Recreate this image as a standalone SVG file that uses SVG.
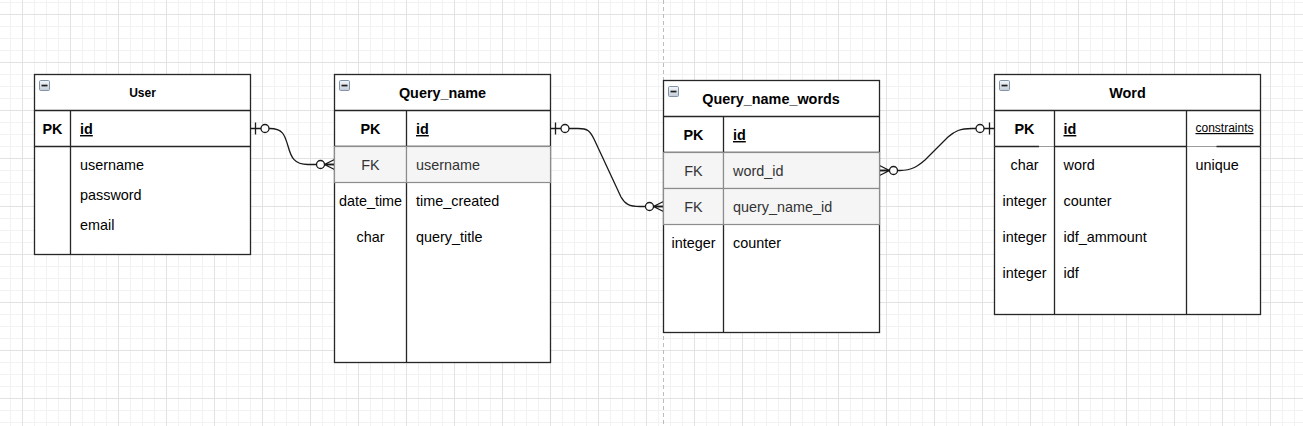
<svg xmlns="http://www.w3.org/2000/svg" width="1303" height="426" viewBox="0 0 1303 426">
<style>
text{font-family:"Liberation Sans",Arial,sans-serif;fill:#000}
.t{font-size:14.4px;font-weight:bold;text-anchor:middle}
.f{font-size:14.4px}
.c{text-anchor:middle}
.b{font-weight:bold}
.u{text-decoration:underline}
.g{fill:#333}
.box{fill:#fff;stroke:#262626;stroke-width:1.3}
.ln{stroke:#262626;stroke-width:1.3;fill:none}
.fk{fill:#f5f5f5;stroke:#8c8c8c;stroke-width:1.2}
.edge{fill:none;stroke:#1a1a1a;stroke-width:1.3}
.mk{fill:#fff;stroke:#1a1a1a;stroke-width:1.3}
</style>
<defs>
<pattern id="grid" x="22" y="14" width="48" height="48" patternUnits="userSpaceOnUse">
<path d="M12.5,0V48M24.5,0V48M36.5,0V48M0,12.5H48M0,24.5H48M0,36.5H48" stroke="#f2f2f2" stroke-width="1"/>
<path d="M0.5,0V48M0,0.5H48" stroke="#e2e2e2" stroke-width="1"/>
</pattern>
<linearGradient id="ig" x1="0" y1="0" x2="0" y2="1">
<stop offset="0" stop-color="#f4f7fa"/>
<stop offset="1" stop-color="#c3cdd9"/>
</linearGradient>
<g id="icon">
<rect x="0.5" y="0.5" width="10" height="10" rx="1.2" fill="url(#ig)" stroke="#8393a7" stroke-width="1"/>
<rect x="2.5" y="4.7" width="6" height="1.7" fill="#1e1e1e"/>
</g>
<marker id="one" markerUnits="userSpaceOnUse" markerWidth="30" markerHeight="30" refX="0" refY="0" orient="auto" overflow="visible">
<path d="M5,-6V6" class="mk"/>
<circle cx="14.5" cy="0" r="4" class="mk"/>
</marker>
<marker id="many" markerUnits="userSpaceOnUse" markerWidth="30" markerHeight="30" refX="0" refY="0" orient="auto" overflow="visible">
<path d="M0,-5L-10,0L0,5M-10,0H0" class="mk" fill="none" style="fill:none"/>
<circle cx="-14" cy="0" r="4" class="mk"/>
</marker>
</defs>
<rect width="1303" height="426" fill="#fff"/>
<rect width="1303" height="426" fill="url(#grid)"/>
<path d="M663.5,0V426" stroke="#bdbdbd" stroke-width="1" stroke-dasharray="4 3"/>

<g id="connectors">
<path class="edge" marker-start="url(#one)" marker-end="url(#many)" d="M250.5,128.5H270C284,128.5 285,137 288,146C291,157 294,164.5 308,164.5H334.5"/>
<path class="edge" marker-start="url(#one)" marker-end="url(#many)" d="M550.5,128.5H578C588,128.5 590,131 594,139L621,197C625,204 629,206.5 640,206.5H663.5"/>
<path class="edge" marker-start="url(#one)" marker-end="url(#many)" d="M994.5,128.5H972C960,128.5 955,131 948,137L925,160C918,166 912,170.5 900,170.5H879.5"/>
</g>

<g id="User">
<rect class="box" x="34.5" y="74.5" width="216" height="180"/>
<path class="ln" d="M34.5,110.5H250.5M34.5,146.5H250.5M70.5,110.5V254.5"/>
<use href="#icon" x="39" y="80"/>
<text x="142.5" y="97" style="font-size:12px;font-weight:bold;text-anchor:middle">User</text>
<text class="f c b" x="52.5" y="134">PK</text>
<text class="f b u" x="80" y="134">id</text>
<text class="f" x="80" y="170">username</text>
<text class="f" x="80" y="200">password</text>
<text class="f" x="80" y="230">email</text>
</g>

<g id="Query_name">
<rect class="box" x="334.5" y="74.5" width="216" height="288"/>
<path class="ln" d="M334.5,110.5H550.5M334.5,146.5H550.5M406.5,110.5V362.5"/>
<rect class="fk" x="334.5" y="146.5" width="72" height="36"/>
<rect class="fk" x="406.5" y="146.5" width="144" height="36"/>
<use href="#icon" x="339" y="80"/>
<text class="t" x="442.5" y="97.7">Query_name</text>
<text class="f c b" x="370.5" y="134">PK</text>
<text class="f b u" x="416" y="134">id</text>
<text class="f c g" x="370.5" y="170">FK</text>
<text class="f g" x="416" y="170">username</text>
<text class="f c" x="370.5" y="206">date_time</text>
<text class="f" x="416" y="206">time_created</text>
<text class="f c" x="370.5" y="242">char</text>
<text class="f" x="416" y="242">query_title</text>
</g>

<g id="Query_name_words">
<rect class="box" x="663.5" y="80.5" width="216" height="252"/>
<path class="ln" d="M663.5,116.5H879.5M663.5,152.5H879.5M723.5,116.5V332.5"/>
<rect class="fk" x="663.5" y="152.5" width="60" height="36"/>
<rect class="fk" x="723.5" y="152.5" width="156" height="36"/>
<rect class="fk" x="663.5" y="188.5" width="60" height="36"/>
<rect class="fk" x="723.5" y="188.5" width="156" height="36"/>
<use href="#icon" x="668" y="86"/>
<text class="t" x="771" y="103.7">Query_name_words</text>
<text class="f c b" x="693.5" y="140">PK</text>
<text class="f b u" x="733" y="140">id</text>
<text class="f c g" x="693.5" y="176">FK</text>
<text class="f g" x="733" y="176">word_id</text>
<text class="f c g" x="693.5" y="212">FK</text>
<text class="f g" x="733" y="212">query_name_id</text>
<text class="f c" x="693.5" y="248">integer</text>
<text class="f" x="733" y="248">counter</text>
</g>

<g id="Word">
<rect class="box" x="994.5" y="74.5" width="266" height="240"/>
<path d="M994.5,146.5H1260.5" stroke="#9a9a9a" stroke-width="1.2"/>
<path class="ln" d="M994.5,110.5H1260.5M994.5,146.5H1039M1054.5,146.5H1186.5M1216.5,146.5H1260.5M1054.5,110.5V314.5M1186.5,110.5V314.5"/>
<use href="#icon" x="999" y="80"/>
<text class="t" x="1127.5" y="97.7">Word</text>
<text class="f c b" x="1024.5" y="134">PK</text>
<text class="f b u" x="1063.5" y="134">id</text>
<text x="1195.5" y="132" style="font-size:12px;text-decoration:underline">constraints</text>
<text class="f c" x="1024.5" y="170">char</text>
<text class="f" x="1063.5" y="170">word</text>
<text class="f" x="1195.5" y="170">unique</text>
<text class="f c" x="1024.5" y="206">integer</text>
<text class="f" x="1063.5" y="206">counter</text>
<text class="f c" x="1024.5" y="242">integer</text>
<text class="f" x="1063.5" y="242">idf_ammount</text>
<text class="f c" x="1024.5" y="278">integer</text>
<text class="f" x="1063.5" y="278">idf</text>
</g>
</svg>
